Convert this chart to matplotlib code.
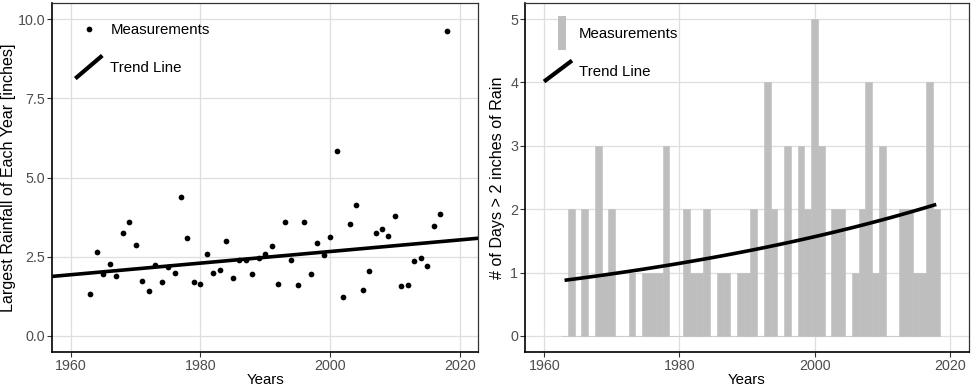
import numpy as np
import matplotlib
matplotlib.use('Agg')
import matplotlib.pyplot as plt
from matplotlib.legend_handler import HandlerBase
from matplotlib.lines import Line2D
from matplotlib.patches import Rectangle

plt.rcParams['font.family'] = ['Liberation Sans', 'DejaVu Sans']

# ---------------- data ----------------
years = np.arange(1963, 2019)
max_rain = [1.33, 2.64, 1.95, 2.27, 1.90, 3.25, 3.58, 2.88, 1.72, 1.42,
            2.24, 1.69, 2.18, 1.99, 4.39, 3.10, 1.71, 1.63, 2.58, 1.99,
            2.09, 3.00, 1.84, 2.40, 2.39, 1.94, 2.47, 2.58, 2.83, 1.64,
            3.60, 2.40, 1.61, 3.59, 1.95, 2.94, 2.55, 3.11, 5.84, 1.22,
            3.54, 4.14, 1.45, 2.04, 3.26, 3.37, 3.14, 3.79, 1.59, 1.62,
            2.35, 2.47, 2.20, 3.46, 3.85, 9.61]
# trend line of the left panel (value at 1960 and 2020)
trend_years = [1960, 2020]
trend_values = [1.93, 3.03]
days_over_2in = [0, 2, 0, 2, 0, 3, 1, 2,
                 0, 0, 1, 0, 1, 1, 1, 3, 0, 0,
                 2, 1, 1, 2, 0, 1, 1, 0, 1, 1,
                 2, 0, 4, 2, 0, 3, 0, 3, 2, 5,
                 3, 0, 2, 2, 0, 1, 2, 4, 1, 3,
                 0, 0, 2, 2, 1, 1, 4, 2]
x_ticks = [1960, 1980, 2000, 2020]
y_ticks_left = [0.0, 2.5, 5.0, 7.5, 10.0]
y_ticks_right = [0, 1, 2, 3, 4, 5]
legend_labels = ['Measurements', 'Trend Line']

# ---------------- styles ----------------
GRID = '#DEDEDE'
TICKC = '#4D4D4D'
BARC = '#BEBEBE'
XLIM = (1957.15, 2022.85)
PX = 0.72  # points per pixel at dpi 100
XTITLE_FS = 10.8
YTITLE_FS = 11.6
TICK_FS = 10.3
LEG_FS = 10.8


class DiagLineHandler(HandlerBase):
    def __init__(self, w_px=27, h_px=23, **kw):
        super().__init__(**kw)
        self.w, self.h = w_px * PX, h_px * PX

    def create_artists(self, legend, orig_handle, xdescent, ydescent,
                       width, height, fontsize, trans):
        cx = -xdescent + width / 2
        cy = -ydescent + height / 2
        ln = Line2D([cx - self.w / 2, cx + self.w / 2],
                    [cy - self.h / 2, cy + self.h / 2],
                    color='black', lw=3.0, solid_capstyle='butt')
        ln.set_transform(trans)
        return [ln]


class TallRectHandler(HandlerBase):
    def __init__(self, w_px=7.5, h_px=33.5, xshift_px=4, **kw):
        super().__init__(**kw)
        self.w, self.h, self.dx = w_px * PX, h_px * PX, xshift_px * PX

    def create_artists(self, legend, orig_handle, xdescent, ydescent,
                       width, height, fontsize, trans):
        cx = -xdescent + width / 2 + self.dx
        cy = -ydescent + height / 2
        r = Rectangle((cx - self.w / 2, cy - self.h / 2), self.w, self.h,
                      facecolor=BARC, edgecolor='none', transform=trans)
        return [r]


def style_axes(ax):
    ax.set_facecolor('white')
    ax.grid(True, color=GRID, lw=0.9)
    ax.set_axisbelow(True)
    for side in ['top', 'right']:
        ax.spines[side].set_color('#333333')
        ax.spines[side].set_linewidth(0.9)
    for side in ['left', 'bottom']:
        ax.spines[side].set_color('black')
        ax.spines[side].set_linewidth(1.2)
    ax.tick_params(axis='both', direction='out', length=3.3, width=0.8,
                   color='#333333', labelcolor=TICKC, labelsize=TICK_FS, pad=1.6)
    ax.set_xlim(*XLIM)
    ax.set_xticks(x_ticks)
    ax.set_xlabel('Years', fontsize=XTITLE_FS, labelpad=0.3)


fig = plt.figure(figsize=(9.74, 3.87), dpi=100)
ax1 = fig.add_axes([52.3 / 974, 35.3 / 387, 426 / 974, 348.4 / 387])
ax2 = fig.add_axes([525 / 974, 35.3 / 387, 444 / 974, 348.4 / 387])

# ---------- left panel ----------
style_axes(ax1)
yrs = np.asarray(years, dtype=float)
pts = ax1.scatter(yrs, max_rain, s=17, color='black', zorder=3, linewidths=0)
slope, intercept = np.polyfit(np.asarray(trend_years, float),
                              np.asarray(trend_values, float), 1)
xx = np.array(XLIM)
trend1, = ax1.plot(xx, intercept + slope * xx, color='black', lw=2.6,
                   solid_capstyle='butt', zorder=4)
ax1.set_ylim(-0.5, 10.5)
ax1.set_yticks(y_ticks_left)
ax1.set_yticklabels([f'{v:.1f}' for v in y_ticks_left])
ax1.set_ylabel('Largest Rainfall of Each Year [inches]', fontsize=YTITLE_FS,
               labelpad=1.5)
ax1.legend([pts, trend1], legend_labels, loc='upper left',
           bbox_to_anchor=(23 / 426, 1 - 20 / 348.4), frameon=False,
           borderpad=0, borderaxespad=0, fontsize=LEG_FS, handlelength=1.8,
           handleheight=0.7, handletextpad=0.53, labelspacing=1.6,
           scatteryoffsets=[0.5],
           handler_map={Line2D: DiagLineHandler(27, 23)})

# ---------- right panel ----------
style_axes(ax2)
counts = np.asarray(days_over_2in, dtype=float)
bars = ax2.bar(yrs, counts, width=1.0, color=BARC, edgecolor=BARC,
               linewidth=0.4, zorder=2)
# Poisson regression trend (IRLS)
t = yrs - yrs.mean()
X = np.column_stack([np.ones_like(t), t])
beta = np.array([np.log(counts.mean()), 0.0])
for _ in range(50):
    eta = X @ beta
    mu = np.exp(eta)
    z = eta + (counts - mu) / mu
    W = mu
    beta = np.linalg.solve(X.T @ (W[:, None] * X), X.T @ (W * z))
fit = np.exp(X @ beta)
trend2, = ax2.plot(yrs, fit, color='black', lw=2.6, solid_capstyle='butt', zorder=4)
ax2.set_ylim(-0.25, 5.25)
ax2.set_yticks(y_ticks_right)
ax2.set_ylabel('# of Days > 2 inches of Rain', fontsize=YTITLE_FS, labelpad=3.5)
ax2.legend([bars.patches[0], trend2], legend_labels, loc='upper left',
           bbox_to_anchor=(19 / 444, 1 - 24 / 348.4), frameon=False,
           borderpad=0, borderaxespad=0, fontsize=LEG_FS, handlelength=1.87,
           handleheight=0.7, handletextpad=0.47, labelspacing=1.6,
           handler_map={Line2D: DiagLineHandler(28, 21),
                        Rectangle: TallRectHandler()})

fig.savefig('out.png', dpi=100, facecolor='white')
